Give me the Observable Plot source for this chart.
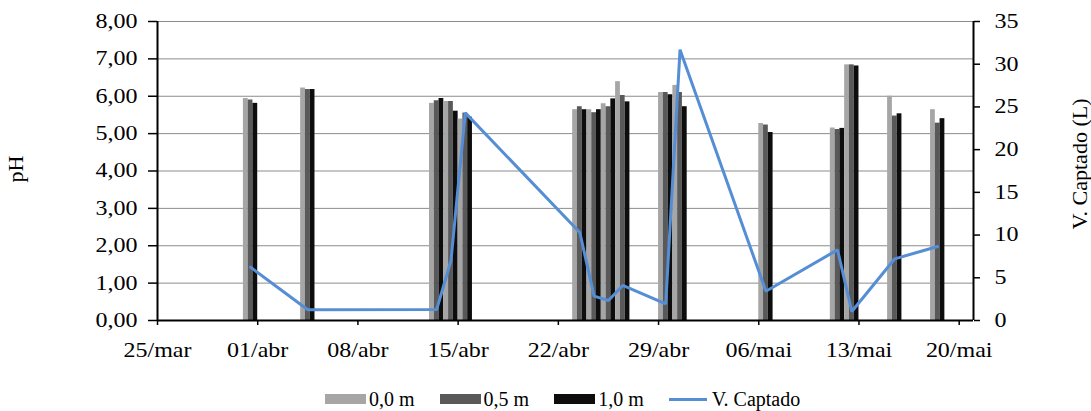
<!DOCTYPE html>
<html>
<head>
<meta charset="utf-8">
<script src="https://cdn.jsdelivr.net/npm/d3@7"></script>
<script src="https://cdn.jsdelivr.net/npm/@observablehq/plot@0.6"></script>
<style>
  html, body { margin: 0; padding: 0; background: #fff; }
  #chart { width: 1091px; }
  .legend { display: flex; align-items: center; height: 24px; margin-top: 22px; padding-left: 325px;
    font-family: 'Liberation Serif', 'Times New Roman', serif; font-size: 20px; color: #000; }
  .legend .item { display: flex; align-items: center; margin-right: 25px; }
  .legend .sw { width: 41px; height: 10px; margin-right: 3px; }
  .legend .ln { width: 38px; height: 3px; background: #558ED5; margin-right: 5px; }
</style>
</head>
<body>
<div id="chart"></div>
<script>
// ---- data ----
const dates = ["2013-03-31","2013-04-04","2013-04-13","2013-04-14","2013-04-15",
  "2013-04-23","2013-04-24","2013-04-25","2013-04-26","2013-04-29","2013-04-30",
  "2013-05-06","2013-05-11","2013-05-12","2013-05-15","2013-05-18"];
const ph00 = [5.94, 6.22, 5.81, 5.86, 5.39, 5.64, 5.64, 5.80, 6.39, 6.10, 6.29, 5.27, 5.15, 6.84, 6.00, 5.64];
const ph05 = [5.90, 6.18, 5.88, 5.86, 5.55, 5.72, 5.56, 5.72, 6.02, 6.10, 6.10, 5.23, 5.11, 6.84, 5.47, 5.28];
const ph10 = [5.81, 6.18, 5.94, 5.60, 5.44, 5.64, 5.64, 5.93, 5.85, 6.04, 5.72, 5.03, 5.14, 6.81, 5.53, 5.40];
const volume = [6.24, 1.25, 1.29, 7.0, 24.3, 10.3, 2.85, 2.34, 4.1, 1.95, 31.7, 3.43, 8.27, 1.05, 7.22, 8.66];
const seriesNames = ["0,0 m", "0,5 m", "1,0 m"];
const seriesColors = ["#A6A6A6", "#595959", "#0D0D0D"];
const lineName = "V. Captado";
const lineColor = "#558ED5";
const xTickDates = ["2013-03-25","2013-04-01","2013-04-08","2013-04-15","2013-04-22",
  "2013-04-29","2013-05-06","2013-05-13","2013-05-20"];
const xTickLabels = ["25/mar","01/abr","08/abr","15/abr","22/abr","29/abr","06/mai","13/mai","20/mai"];
const xDomainDates = ["2013-03-25", "2013-05-21"];
const yTicks = [0, 1, 2, 3, 4, 5, 6, 7, 8];
const y2Ticks = [0, 5, 10, 15, 20, 25, 30, 35];
const yMax = 8, y2Max = 35;
const yTitle = "pH", y2Title = "V. Captado (L)";

// ---- build ----
const DAY = 864e5;
const parse = s => new Date(s + "T00:00:00Z");
const seriesArrays = [ph00, ph05, ph10];
const barData = [];
dates.forEach((d, i) => seriesArrays.forEach((arr, k) =>
  barData.push({t: parse(d), k, series: seriesNames[k], ph: arr[i]})));
const lineData = dates.map((d, i) => ({t: new Date(+parse(d) + DAY / 2), v: volume[i]}));
const toY = v => v * yMax / y2Max;
const labelByTime = new Map(xTickDates.map((s, i) => [+parse(s), xTickLabels[i]]));
const xDomain = xDomainDates.map(parse);

const plot = Plot.plot({
  width: 1091, height: 365,
  marginLeft: 157, marginRight: 118, marginTop: 21, marginBottom: 45,
  style: {fontFamily: "'Liberation Serif', 'Times New Roman', serif", fontSize: "20px", color: "#000", background: "white", overflow: "visible"},
  x: {type: "utc", domain: xDomain},
  y: {domain: [0, yMax]},
  color: {domain: seriesNames, range: seriesColors},
  marks: [
    Plot.gridY(yTicks, {stroke: "#8c8c8c", strokeOpacity: 1, strokeWidth: 1}),
    Plot.rectY(barData, {
      x1: d => new Date(+d.t + d.k * DAY / 3),
      x2: d => new Date(+d.t + (d.k + 1) * DAY / 3),
      y: "ph", fill: "series"
    }),
    Plot.line(lineData, {x: "t", y: d => toY(d.v), stroke: lineColor, strokeWidth: 3, strokeLinejoin: "miter"}),
    Plot.ruleY([0], {stroke: "black", strokeWidth: 2}),
    Plot.ruleX([xDomain[0]], {stroke: "black", strokeWidth: 2}),
    Plot.ruleX([xDomain[1]], {stroke: "black", strokeWidth: 2}),
    Plot.axisY(yTicks, {anchor: "left", tickSize: 9, tickPadding: 11, strokeWidth: 1.5,
      tickFormat: d => d.toFixed(2).replace(".", ","), label: null}),
    Plot.axisY(y2Ticks.map(toY), {anchor: "right", tickSize: 6, tickPadding: 15, strokeWidth: 1.5,
      tickFormat: d => String(Math.round(d * y2Max / yMax)), label: null}),
    Plot.axisX(xTickDates.map(parse), {anchor: "bottom", tickSize: 5, tickPadding: 17, strokeWidth: 1.5,
      tickFormat: d => labelByTime.get(+d), label: null}),
    Plot.text([yTitle], {text: d => d, frameAnchor: "left", textAnchor: "middle", dx: -142, dy: -2, rotate: -90, fontSize: 22}),
    Plot.text([y2Title], {text: d => d, frameAnchor: "right", textAnchor: "middle", dx: 106, dy: -7, rotate: -90, fontSize: 22})
  ]
});

// tick labels in the reference are horizontally widened (scale about each label's anchor)
plot.querySelectorAll('g[aria-label$="tick label"] text').forEach(t => {
  const tr = t.getAttribute("transform") || "";
  t.setAttribute("transform", `${tr} scale(1.2,1)`);
});

const chart = document.getElementById("chart");
chart.appendChild(plot);

const legend = document.createElement("div");
legend.className = "legend";
seriesNames.forEach((name, k) => {
  const it = document.createElement("div"); it.className = "item";
  const sw = document.createElement("div"); sw.className = "sw"; sw.style.background = seriesColors[k];
  const tx = document.createElement("span"); tx.textContent = name;
  it.appendChild(sw); it.appendChild(tx); legend.appendChild(it);
});
{
  const it = document.createElement("div"); it.className = "item";
  const ln = document.createElement("div"); ln.className = "ln";
  const tx = document.createElement("span"); tx.textContent = lineName;
  it.appendChild(ln); it.appendChild(tx); legend.appendChild(it);
}
chart.appendChild(legend);
</script>
</body>
</html>
